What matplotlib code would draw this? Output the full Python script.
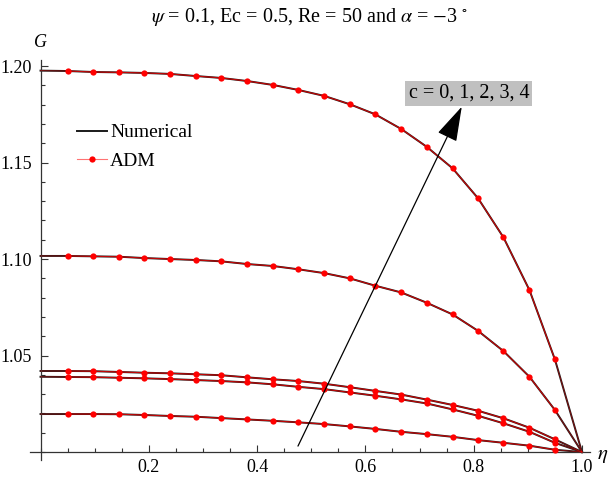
import matplotlib
matplotlib.use("Agg")
import matplotlib.pyplot as plt
from matplotlib.ticker import FixedLocator, MultipleLocator

plt.rcParams['font.family'] = ['Liberation Serif', 'DejaVu Serif']
plt.rcParams['mathtext.fontset'] = 'stix'

# eta positions of the ADM points
eta_adm = [0.05, 0.097, 0.145, 0.192, 0.239, 0.287, 0.334, 0.382, 0.429, 0.476,
           0.524, 0.571, 0.618, 0.666, 0.713, 0.761, 0.808, 0.855, 0.903, 0.95]
# numerical solution: same points plus the two walls
eta_num = [0.0] + eta_adm + [1.0]

# G(eta) for c = 0..4
G_c0 = [1.0197, 1.0197, 1.0197, 1.0196, 1.0192, 1.0187, 1.0183, 1.0176, 1.0169, 1.0162, 1.0154,
        1.0145, 1.0133, 1.0120, 1.0105, 1.0093, 1.0079, 1.0062, 1.0048, 1.0033, 1.0012, 1.0]
G_c1 = [1.0390, 1.0389, 1.0388, 1.0385, 1.0382, 1.0378, 1.0373, 1.0368, 1.0361, 1.0351, 1.0338,
        1.0326, 1.0309, 1.0292, 1.0273, 1.0252, 1.0221, 1.0188, 1.0149, 1.0105, 1.0048, 1.0]
G_c2 = [1.0420, 1.0420, 1.0419, 1.0415, 1.0411, 1.0408, 1.0403, 1.0398, 1.0387, 1.0377, 1.0368,
        1.0354, 1.0336, 1.0317, 1.0298, 1.0272, 1.0244, 1.0214, 1.0175, 1.0126, 1.0066, 1.0]
G_c3 = [1.1016, 1.1016, 1.1014, 1.1012, 1.1005, 1.1000, 1.0995, 1.0988, 1.0974, 1.0964, 1.0947,
        1.0927, 1.0900, 1.0862, 1.0827, 1.0774, 1.0713, 1.0628, 1.0523, 1.0390, 1.0218, 1.0]
G_c4 = [1.1976, 1.1974, 1.1969, 1.1967, 1.1964, 1.1959, 1.1948, 1.1938, 1.1922, 1.1902, 1.1876,
        1.1845, 1.1802, 1.1750, 1.1674, 1.1582, 1.1470, 1.1315, 1.1112, 1.0839, 1.0480, 1.0]
curves = [G_c0, G_c1, G_c2, G_c3, G_c4]

title = r'$\psi$ = 0.1, Ec = 0.5, Re = 50 and $\alpha$ = $-$3 $^{\circ}$'
x_ticks = [0.2, 0.4, 0.6, 0.8, 1.0]
x_ticklabels = ['0.2', '0.4', '0.6', '0.8', '1.0']
y_ticks = [1.05, 1.10, 1.15, 1.20]
y_ticklabels = ['1.05', '1.10', '1.15', '1.20']

fig = plt.figure(figsize=(6.1, 4.79), dpi=100)
ax = fig.add_axes([0.0492, 0.0397, 0.918, 0.835])

for i, G in enumerate(curves):
    ax.plot(eta_num, G, color='#1a1a1a', lw=1.4,
            label='Numerical' if i == 0 else None, zorder=2)
    ax.plot(eta_adm, G[1:-1], color=(1, 0, 0, 0.55), lw=0.8, marker='o', ms=4.5,
            markerfacecolor='red', markeredgecolor='red', markeredgewidth=0,
            label='ADM' if i == 0 else None, zorder=3)
    # ADM line also runs to the walls
    ax.plot(eta_num, G, color=(1, 0, 0, 0.45), lw=0.7, zorder=3)

ax.set_xlim(-0.0194, 1.0148)
ax.set_ylim(0.9959, 1.2031)

# Mathematica-like axes crossing at (0, 1)
for side in ['top', 'right']:
    ax.spines[side].set_visible(False)
ax.spines['left'].set_position(('data', 0.0))
ax.spines['bottom'].set_position(('data', 1.0))
for side in ['left', 'bottom']:
    ax.spines[side].set_linewidth(0.9)
    ax.spines[side].set_color('#333333')

ax.xaxis.set_major_locator(FixedLocator(x_ticks))
ax.set_xticklabels(x_ticklabels)
ax.xaxis.set_minor_locator(MultipleLocator(0.05))
ax.yaxis.set_major_locator(FixedLocator(y_ticks))
ax.set_yticklabels(y_ticklabels)
ax.yaxis.set_minor_locator(MultipleLocator(0.01))
ax.tick_params(which='both', direction='in', width=0.8, color='#333333', labelsize=13)
ax.tick_params(which='major', length=5)
ax.tick_params(which='minor', length=3)
ax.tick_params(axis='x', pad=5)
ax.tick_params(axis='y', pad=6)

ax.text(0.0, 1.212, 'G', fontsize=13, style='italic', ha='center', va='center')
fig.text(0.978, 0.05, r'$\eta$', fontsize=15, ha='left', va='center')
fig.text(0.508, 0.965, title, fontsize=14.5, ha='center', va='center')

leg = ax.legend(loc='upper left', bbox_to_anchor=(0.07, 0.86), frameon=False,
                fontsize=14, handlelength=1.55, handletextpad=0.15, labelspacing=0.55,
                borderaxespad=0)

# arrow pointing in the direction of increasing c
ax.annotate('', xy=(0.778, 1.1789), xytext=(0.4755, 1.0031),
            arrowprops=dict(arrowstyle='-|>,head_length=1.1,head_width=0.33',
                            mutation_scale=20, color='black', lw=0.9,
                            shrinkA=0, shrinkB=0), zorder=4)
ax.text(0.791, 1.186, 'c = 0, 1, 2, 3, 4', fontsize=14.5, ha='center', va='center',
        bbox=dict(boxstyle='square,pad=0.15', facecolor='#c0c0c0', edgecolor='none'),
        zorder=5)

fig.savefig('out.png', dpi=100)
